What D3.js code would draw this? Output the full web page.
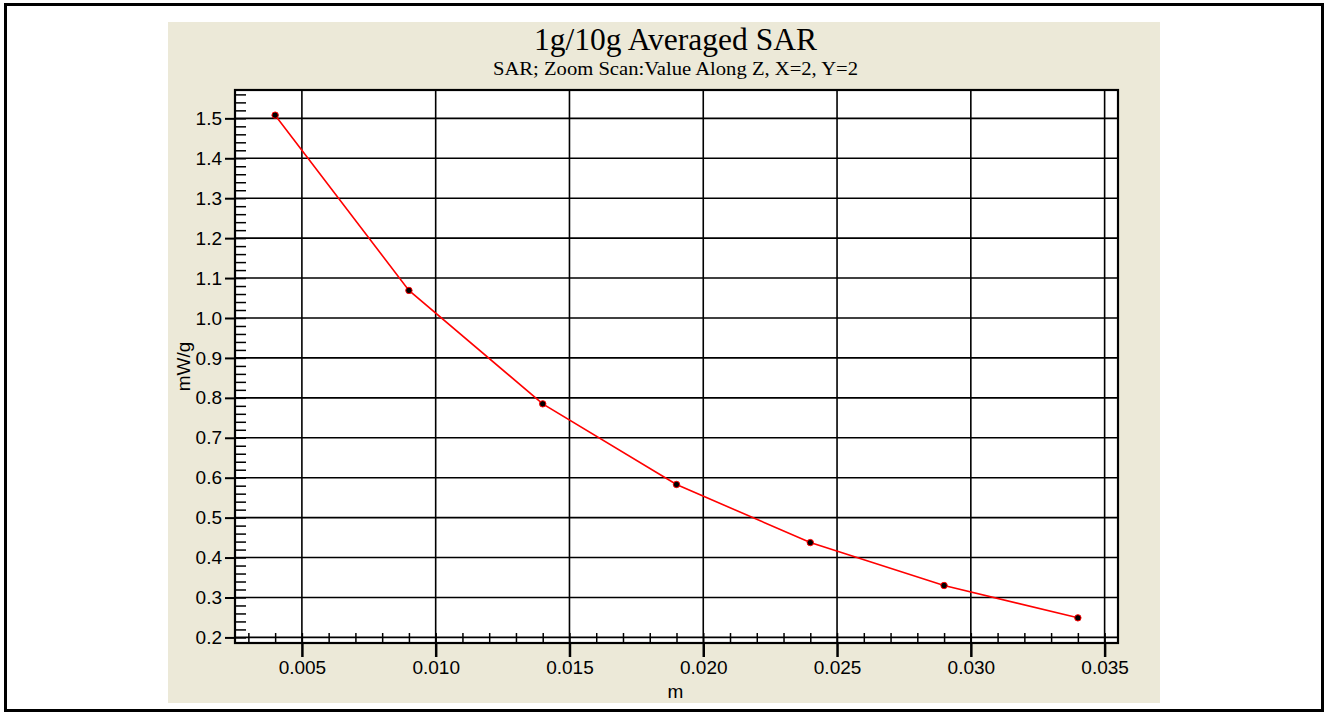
<!DOCTYPE html>
<html>
<head>
<meta charset="utf-8">
<script src="https://cdn.jsdelivr.net/npm/d3@7"></script>
<style>
  html, body { margin: 0; padding: 0; background: #fff; }
  svg { display: block; }
</style>
</head>
<body>
<svg id="chart" width="1329" height="720"></svg>
<script>
// Zoom scan along Z: averaged SAR vs. depth
const depth = [0.004, 0.009, 0.014, 0.019, 0.024, 0.029, 0.034];
const sar = [1.508, 1.069, 0.785, 0.583, 0.4375, 0.330, 0.249];
const xTicks = [0.005, 0.010, 0.015, 0.020, 0.025, 0.030, 0.035];
const yTicks = [0.2, 0.3, 0.4, 0.5, 0.6, 0.7, 0.8, 0.9, 1.0, 1.1, 1.2, 1.3, 1.4, 1.5];
const titleText = "1g/10g Averaged SAR";
const subtitleText = "SAR; Zoom Scan:Value Along Z, X=2, Y=2";
const xLabel = "m";
const yLabel = "mW/g";

const svg = d3.select("#chart");
const sans = "'Liberation Sans', Arial, sans-serif";
const serif = "'Liberation Serif', 'Times New Roman', serif";

// outer frame
svg.append("rect")
  .attr("x", 5.5).attr("y", 4.5).attr("width", 1317).attr("height", 706)
  .attr("fill", "#fff").attr("stroke", "#000").attr("stroke-width", 3);

// chart panel
svg.append("rect")
  .attr("x", 168).attr("y", 22).attr("width", 992).attr("height", 681)
  .attr("fill", "#ECE9D8");

const plot = { left: 235, right: 1118, top: 90, bottom: 643 };

const x = d3.scaleLinear().domain([0.0025, 0.0355]).range([plot.left, plot.right]);
const y = d3.scaleLinear().domain([0.186, 1.571]).range([plot.bottom, plot.top]);

// plot background
svg.append("rect")
  .attr("x", plot.left).attr("y", plot.top)
  .attr("width", plot.right - plot.left).attr("height", plot.bottom - plot.top)
  .attr("fill", "#fff");

// grid
const grid = svg.append("g").attr("stroke", "#000").attr("stroke-width", 1.6);
grid.selectAll("line.h").data(yTicks).join("line").attr("class", "h")
  .attr("x1", plot.left).attr("x2", plot.right)
  .attr("y1", d => y(d)).attr("y2", d => y(d));
grid.selectAll("line.v").data(xTicks).join("line").attr("class", "v")
  .attr("y1", plot.top).attr("y2", plot.bottom)
  .attr("x1", d => x(d)).attr("x2", d => x(d));

// minor ticks (inside the plot)
const yMinor = d3.range(0.2, 1.571, 0.02).filter(v => v >= 0.19);
const xMinor = d3.range(0.003, 0.0355, 0.001);

svg.append("g").attr("transform", `translate(${plot.left},0)`)
  .call(d3.axisRight(y).tickValues(yMinor).tickSize(11).tickFormat(""))
  .call(g => g.select(".domain").remove())
  .call(g => g.selectAll("line").attr("stroke", "#000").attr("stroke-width", 1.5));

svg.append("g").attr("transform", `translate(0,${plot.bottom})`)
  .call(d3.axisTop(x).tickValues(xMinor).tickSize(10).tickFormat(""))
  .call(g => g.select(".domain").remove())
  .call(g => g.selectAll("line").attr("stroke", "#000").attr("stroke-width", 1.5));

// major axes
svg.append("g").attr("transform", `translate(${plot.left},0)`)
  .call(d3.axisLeft(y).tickValues(yTicks).tickSize(10).tickPadding(3).tickFormat(d3.format(".1f")))
  .call(g => g.select(".domain").remove())
  .call(g => g.selectAll("line").attr("stroke", "#000").attr("stroke-width", 2))
  .call(g => g.selectAll("text").attr("fill", "#000").style("font-family", sans).style("font-size", "19px"));

svg.append("g").attr("transform", `translate(0,${plot.bottom})`)
  .call(d3.axisBottom(x).tickValues(xTicks).tickSize(14).tickPadding(4).tickFormat(d3.format(".3f")))
  .call(g => g.select(".domain").remove())
  .call(g => g.selectAll("line").attr("stroke", "#000").attr("stroke-width", 2.5))
  .call(g => g.selectAll("text").attr("fill", "#000").style("font-family", sans).style("font-size", "19px"));

// plot frame
svg.append("rect")
  .attr("x", plot.left).attr("y", plot.top)
  .attr("width", plot.right - plot.left).attr("height", plot.bottom - plot.top)
  .attr("fill", "none").attr("stroke", "#000").attr("stroke-width", 2.2);

// series: straight segments between measured points
const pts = depth.map((d, i) => [d, sar[i]]);
svg.append("path")
  .datum(pts)
  .attr("fill", "none").attr("stroke", "#ff0000").attr("stroke-width", 1.6)
  .attr("d", d3.line().x(d => x(d[0])).y(d => y(d[1])));

svg.append("g").selectAll("circle").data(pts).join("circle")
  .attr("cx", d => x(d[0])).attr("cy", d => y(d[1])).attr("r", 3.2)
  .attr("fill", "#000").attr("stroke", "#ff0000").attr("stroke-width", 1);

// titles
const cx = (plot.left + plot.right) / 2 - 1;
svg.append("text").attr("x", cx).attr("y", 49.5).attr("text-anchor", "middle")
  .attr("textLength", 283).attr("lengthAdjust", "spacingAndGlyphs")
  .style("font-family", serif).style("font-size", "31px").attr("fill", "#000")
  .text(titleText);
svg.append("text").attr("x", cx).attr("y", 74.5).attr("text-anchor", "middle")
  .attr("textLength", 365).attr("lengthAdjust", "spacingAndGlyphs")
  .style("font-family", serif).style("font-size", "18px").attr("fill", "#000")
  .text(subtitleText);

// axis labels
svg.append("text").attr("x", cx).attr("y", 698).attr("text-anchor", "middle")
  .style("font-family", sans).style("font-size", "19px").attr("fill", "#000")
  .text(xLabel);
svg.append("text")
  .attr("transform", `translate(190,${(plot.top + plot.bottom) / 2}) rotate(-90)`)
  .attr("text-anchor", "middle")
  .style("font-family", sans).style("font-size", "19px").attr("fill", "#000")
  .text(yLabel);
</script>
</body>
</html>
